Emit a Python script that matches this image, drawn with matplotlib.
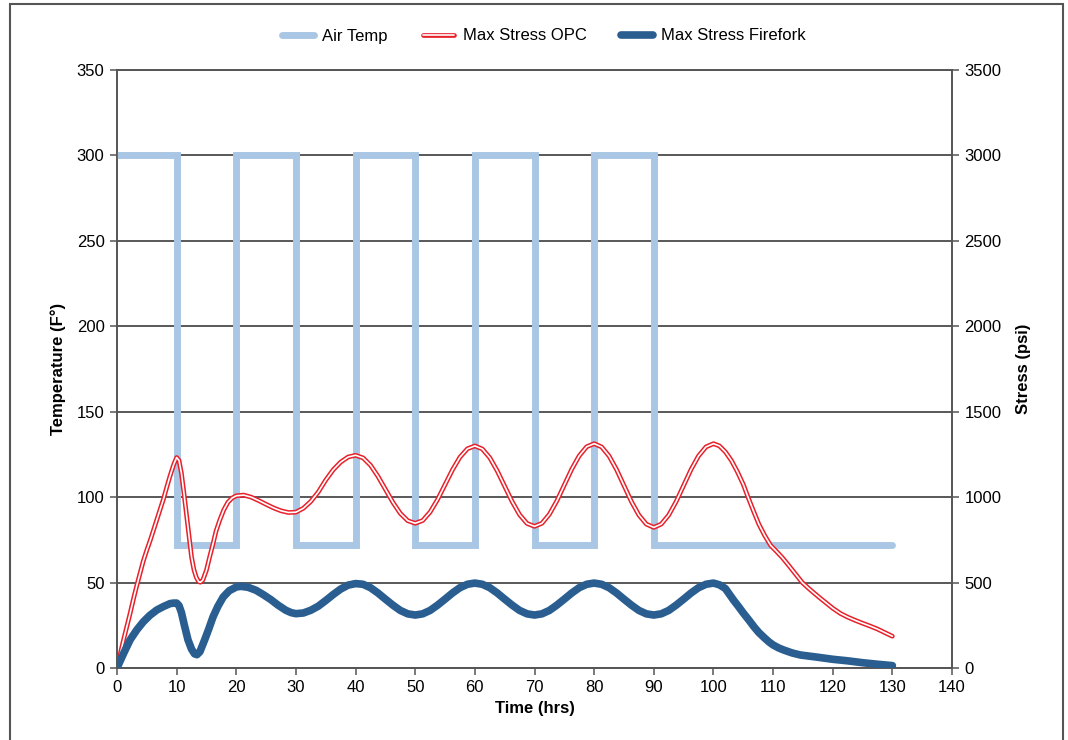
import matplotlib
matplotlib.use("Agg")
import matplotlib.pyplot as plt
from matplotlib.patches import Rectangle

# air temperature (F), square wave
air_time = [0, 10, 10, 20, 20, 30, 30, 40, 40, 50, 50, 60, 60, 70, 70, 80, 80, 90, 90, 130]
air_temp = [300, 300, 72, 72, 300, 300, 72, 72, 300, 300, 72, 72, 300, 300, 72, 72, 300, 300, 72, 72]

# max stress OPC (psi)
opc_time = [0, 0.5, 1.1, 1.7, 2.2, 2.8, 3.3, 3.9, 4.4, 5, 5.6, 6.2, 6.7, 7.3, 7.8, 8.4, 8.9, 9.5,
            10, 10.4, 10.8, 11.2, 11.7, 12.1,
            12.5, 12.9, 13.3, 13.7, 14, 14.4, 15, 15.5, 16.1, 16.6, 17.2, 17.9, 18.6, 19.3, 20,
            21.25, 22.5, 23.75, 25, 26.25, 27.5, 28.75, 30, 31.25, 32.5, 33.75, 35, 36.25, 37.5, 38.75,
            40, 41.25, 42.5, 43.75, 45, 46.25, 47.5, 48.75,
            50, 51.25, 52.5, 53.75, 55, 56.25, 57.5, 58.75,
            60, 61.25, 62.5, 63.75, 65, 66.25, 67.5, 68.75,
            70, 71.25, 72.5, 73.75, 75, 76.25, 77.5, 78.75,
            80, 81.25, 82.5, 83.75, 85, 86.25, 87.5, 88.75,
            90, 91.25, 92.5, 93.75, 95, 96.25, 97.5, 98.75,
            100, 101, 102, 103, 104, 105, 105.8, 106.7, 107.6, 108.6, 109.6, 110.5, 111.5, 112.4,
            113.2, 114, 114.9, 116, 117, 118, 119, 120, 121.3, 122.5, 123.7, 125, 126.3, 127.5,
            128.8, 130]
opc_stress = [0, 75, 165, 250, 320, 410, 480, 560, 625, 690, 750, 815, 870, 935, 990, 1065, 1125, 1190,
              1232, 1215, 1140, 1030, 882, 760,
              649, 575, 530, 505, 502, 515, 573, 645, 727, 800, 863, 925, 970, 995, 1008,
              1012, 1000, 980, 958, 937, 920, 910, 912, 935, 975, 1030, 1100, 1160, 1205, 1235,
              1245, 1230, 1187, 1122, 1046, 970, 905, 862,
              847, 863, 913, 986, 1073, 1160, 1234, 1283,
              1300, 1282, 1231, 1154, 1064, 974, 897, 846,
              829, 847, 900, 978, 1071, 1164, 1242, 1295,
              1313, 1294, 1241, 1162, 1068, 974, 895, 842,
              823, 842, 895, 974, 1068, 1162, 1241, 1294,
              1313, 1300, 1265, 1215, 1150, 1075, 1000, 920, 843, 775, 717, 685, 648, 610,
              575, 540, 500, 465, 435, 406, 378, 350, 319, 298, 280, 262, 245, 228,
              206, 186]

# max stress Firefork (psi)
ff_time = [0, 1.1, 2.2, 3.3, 4.4, 5.5, 6.7, 7.8, 8.9, 9.5, 10, 10.4, 10.8, 11.3, 11.9, 12.5, 13,
           13.4, 13.9, 14.7, 15.4, 16.1, 16.9, 17.8, 18.8, 20, 20.8,
           22, 23.3, 24.5, 25.8, 27, 28.3, 29.2, 30, 31.25, 32.5, 33.75, 35, 36.25, 37.5, 38.75,
           40, 41.25, 42.5, 43.75, 45, 46.25, 47.5, 48.75,
           50, 51.25, 52.5, 53.75, 55, 56.25, 57.5, 58.75,
           60, 61.25, 62.5, 63.75, 65, 66.25, 67.5, 68.75,
           70, 71.25, 72.5, 73.75, 75, 76.25, 77.5, 78.75,
           80, 81.25, 82.5, 83.75, 85, 86.25, 87.5, 88.75,
           90, 91.25, 92.5, 93.75, 95, 96.25, 97.5, 98.75,
           100, 101, 102, 103.4, 104.2, 105, 106, 106.8, 107.6, 108.5, 109.3, 110, 110.9, 111.8,
           113.2, 114.6, 117.5, 120, 122.5, 125, 127.5, 130]
ff_stress = [0, 85, 165, 222, 270, 308, 340, 360, 377, 380, 380, 365, 325, 250, 165, 110, 83,
             78, 95, 165, 230, 299, 360, 415, 452, 474, 478,
             472, 455, 430, 400, 368, 338, 324, 318, 322, 338, 362, 395, 430, 462, 485,
             494, 490, 470, 439, 403, 368, 337, 317,
             310, 317, 337, 368, 403, 439, 470, 490,
             497, 490, 470, 439, 403, 368, 337, 317,
             310, 317, 337, 368, 403, 439, 470, 490,
             497, 490, 470, 439, 403, 368, 337, 317,
             310, 317, 337, 368, 403, 439, 470, 490,
             497, 487, 465, 396, 360, 322, 278, 241, 208, 178, 153, 135, 118, 105,
             88, 76, 63, 51, 42, 31, 22, 14]

plt.rcParams['font.family'] = ['Liberation Sans Narrow', 'Liberation Sans', 'DejaVu Sans']
plt.rcParams['font.size'] = 12

fig = plt.figure(figsize=(10.68, 7.4), dpi=100)
ax = fig.add_axes([117 / 1068, 1 - 668 / 740, (952 - 117) / 1068, (668 - 70) / 740])
ax2 = ax.twinx()

air, = ax.plot(air_time, air_temp, color='#a9c7e4', lw=5, solid_capstyle='round',
               solid_joinstyle='miter', zorder=3)
ax.set_xlim(0, 140)
ax.set_ylim(0, 350)
ax.set_xticks(range(0, 141, 10))
ax.set_yticks(range(0, 351, 50))
ax.yaxis.grid(True, color='#2b2b2b', lw=1.1)
ax.set_axisbelow(True)

opc_red, = ax2.plot(opc_time, opc_stress, color='#e8202a', lw=3.4, solid_capstyle='round',
                    solid_joinstyle='round', zorder=4)
opc_white, = ax2.plot(opc_time, opc_stress, color='white', lw=1.2, solid_capstyle='round',
                      solid_joinstyle='round', zorder=5)
ff, = ax2.plot(ff_time, ff_stress, color='#2a5e91', lw=5.5, solid_capstyle='round',
               solid_joinstyle='round', zorder=6)
ax2.set_ylim(0, 3500)
ax2.set_yticks(range(0, 3501, 500))

for a in (ax, ax2):
    for s in a.spines.values():
        s.set_color('#555555')
        s.set_linewidth(1.2)
    a.tick_params(direction='out', length=5, width=1.1, color='#555555', labelsize=12, pad=4)

ax.set_xlabel('Time (hrs)', fontweight='bold', fontsize=12, labelpad=4)
ax.set_ylabel('Temperature (F°)', fontweight='bold', fontsize=12, labelpad=8)
ax2.set_ylabel('Stress (psi)', fontweight='bold', fontsize=12, labelpad=10)

fig.legend([air, (opc_red, opc_white), ff], ['Air Temp', 'Max Stress OPC', 'Max Stress Firefork'],
           loc='center', bbox_to_anchor=(544 / 1068, 1 - 36 / 740), ncol=3, frameon=False,
           handlelength=1.9, handletextpad=0.5, columnspacing=2.1, fontsize=12)

fig.patches.append(Rectangle((10 / 1068, -0.02), (1063 - 10) / 1068, 1 - 4 / 740 + 0.02,
                             transform=fig.transFigure, fill=False, edgecolor='#555555', lw=1.5))

fig.savefig('out.png', dpi=100)
